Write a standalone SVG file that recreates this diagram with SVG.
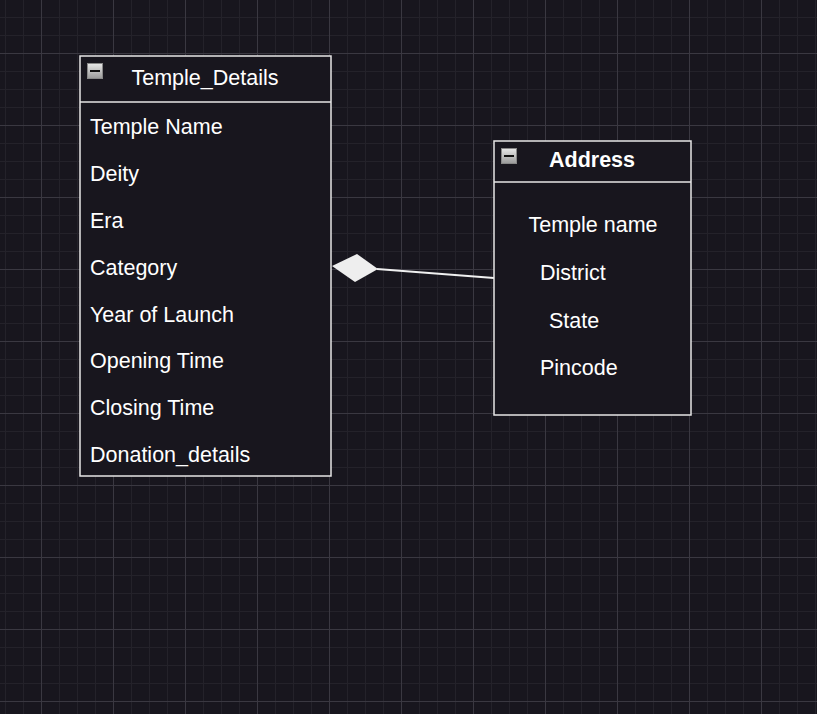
<svg xmlns="http://www.w3.org/2000/svg" width="817" height="714" viewBox="0 0 817 714">
<defs>
<pattern id="minor" x="5" y="17" width="18" height="18" patternUnits="userSpaceOnUse">
<path d="M0 0.5H18M0.5 0V18" stroke="#24222a" stroke-width="1" fill="none"/>
</pattern>
<pattern id="major" x="41" y="53" width="72" height="72" patternUnits="userSpaceOnUse">
<path d="M0 0.5H72M0.5 0V72" stroke="#3a3841" stroke-width="1" fill="none"/>
</pattern>
<linearGradient id="ig" x1="0" y1="0" x2="0" y2="1">
<stop offset="0" stop-color="#e8e8e8"/>
<stop offset="1" stop-color="#9a9a9a"/>
</linearGradient>
<g id="icon">
<rect x="0.5" y="0.5" width="15" height="15" fill="url(#ig)" stroke="#888"/>
<rect x="3" y="7" width="10" height="2" fill="#111"/>
</g>
</defs>
<style>
.box{fill:#18161e;stroke:#e6e6e6;stroke-width:1.5}
.t{font-family:"Liberation Sans",Arial,sans-serif;font-size:21.5px;fill:#ffffff}
.b{font-weight:bold}
.c{text-anchor:middle}
</style>
<rect width="817" height="714" fill="#18161e"/>
<rect width="817" height="714" fill="url(#minor)"/>
<rect width="817" height="714" fill="url(#major)"/>
<g id="connectors">
<line x1="377" y1="269" x2="494" y2="278" stroke="#f0f0f0" stroke-width="2"/>
<polygon points="332,266 357,254 378,269 355,282" fill="#eeeeee"/>
</g>
<g id="temple_details">
<rect class="box" x="80" y="56" width="251" height="420"/>
<line x1="80" y1="102" x2="331" y2="102" stroke="#e6e6e6" stroke-width="1.5"/>
<use href="#icon" x="87" y="63"/>
<text class="t c" x="205" y="85">Temple_Details</text>
<text class="t" x="90" y="134">Temple Name</text>
<text class="t" x="90" y="181">Deity</text>
<text class="t" x="90" y="228">Era</text>
<text class="t" x="90" y="275">Category</text>
<text class="t" x="90" y="322">Year of Launch</text>
<text class="t" x="90" y="368">Opening Time</text>
<text class="t" x="90" y="415">Closing Time</text>
<text class="t" x="90" y="462">Donation_details</text>
</g>
<g id="address">
<rect class="box" x="494" y="141" width="197" height="274"/>
<line x1="494" y1="182" x2="691" y2="182" stroke="#e6e6e6" stroke-width="1.5"/>
<use href="#icon" x="501" y="148"/>
<text class="t b c" x="592" y="167">Address</text>
<text class="t c" x="593" y="232">Temple name</text>
<text class="t" x="540" y="280">District</text>
<text class="t" x="549" y="328">State</text>
<text class="t" x="540" y="375">Pincode</text>
</g>
</svg>
